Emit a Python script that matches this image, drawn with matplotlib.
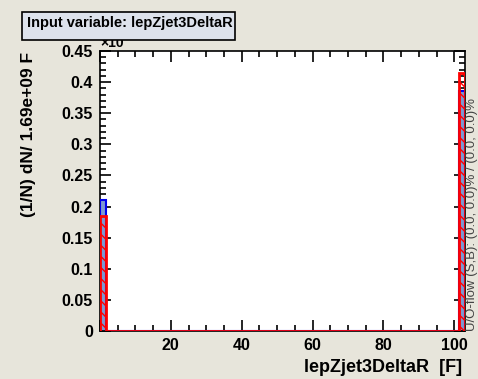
import matplotlib.pyplot as plt
import numpy as np
from matplotlib.ticker import MultipleLocator
from matplotlib.patches import Rectangle

plt.rcParams['font.family'] = ['Liberation Sans', 'DejaVu Sans']

# histogram data
x_min, x_max, n_bins = 0.0, 103.0, 60
signal_bins = [0, 59]            # non-empty bins
signal_vals = [0.21, 0.385]
backgr_bins = [0, 59]
backgr_vals = [0.185, 0.415]

edges = np.linspace(x_min, x_max, n_bins + 1)
sig = np.zeros(n_bins)
bkg = np.zeros(n_bins)
sig[signal_bins] = signal_vals
bkg[backgr_bins] = backgr_vals

bg = '#e7e5db'
W, H = 478, 379
fig = plt.figure(figsize=(W / 100, H / 100), dpi=100)
fig.patch.set_facecolor(bg)
ax = fig.add_axes([100/W, 1 - 331/H, 365/W, 280/H])
ax.set_facecolor('white')

# signal: light blue fill, blue outline
ax.stairs(sig, edges, fill=True, color='#7d99d1', zorder=2)
ax.stairs(sig, edges, color='#0000ee', linewidth=1.5, zorder=3)
# background: red hatched, red outline
ax.stairs(bkg, edges, fill=True, facecolor='none', edgecolor='red',
          hatch='\\\\\\', linewidth=0, zorder=4)
ax.stairs(bkg, edges, color='red', linewidth=2, zorder=5)

ax.set_xlim(x_min, x_max)
ax.set_ylim(0, 0.45)
ax.xaxis.set_major_locator(MultipleLocator(20))
ax.xaxis.set_minor_locator(MultipleLocator(5))
ax.yaxis.set_major_locator(MultipleLocator(0.05))
ax.yaxis.set_minor_locator(MultipleLocator(0.01))
ax.yaxis.set_major_formatter(plt.FuncFormatter(lambda v, p: '%g' % round(v, 2)))
ax.xaxis.set_major_formatter(plt.FuncFormatter(lambda v, p: '' if v == 0 else '%g' % v))
ax.tick_params(which='both', direction='in', top=True, right=True, width=1.2)
ax.tick_params(which='major', length=8, labelsize=11.5, pad=5)
ax.tick_params(which='minor', length=4)
for lab in ax.get_xticklabels() + ax.get_yticklabels():
    lab.set_fontweight('bold')
for s in ax.spines.values():
    s.set_linewidth(1.2)

# exponent label partly hidden by the title box
fig.text(100/W, 1 - 47/H, '×10', fontsize=10, fontweight='bold', zorder=1)

# title box
fig.patches.append(Rectangle((22/W, 1 - 40/H), 213/W, 28/H, transform=fig.transFigure,
                             facecolor='#dde2ec', edgecolor='black', linewidth=1.2, zorder=5))
fig.text(27/W, 1 - 23/H, 'Input variable: lepZjet3DeltaR', fontsize=10.5,
         fontweight='bold', va='center', ha='left', zorder=10)

fig.text(29/W, 1 - 52/H, '(1/N) dN/ 1.69e+09 F', rotation=90, fontsize=12.5,
         fontweight='bold', ha='center', va='top')
fig.text(462/W, 1 - 368/H, 'lepZjet3DeltaR  [F]', fontsize=13,
         fontweight='bold', ha='right', va='center')
fig.text(472/W, 1 - 331/H, 'U/O-flow (S,B): (0.0, 0.0)% / (0.0, 0.0)%', rotation=90,
         fontsize=9.5, color='#444444', ha='center', va='bottom')

plt.savefig('out.png', dpi=100, facecolor=bg)
